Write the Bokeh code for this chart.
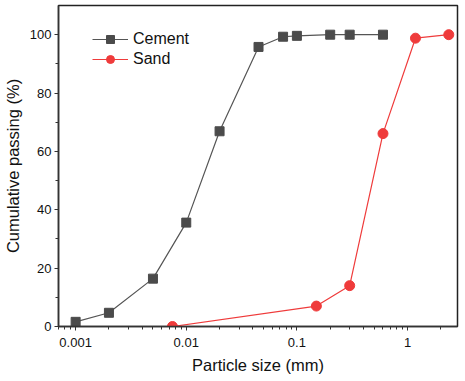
from bokeh.plotting import figure
from bokeh.models import FixedTicker, CustomJSTickFormatter, Legend, LegendItem, Range1d
from bokeh.embed import file_html
from bokeh.resources import INLINE

cement_size = [0.001, 0.002, 0.005, 0.01, 0.02, 0.045, 0.075, 0.1, 0.2, 0.3, 0.6]
cement_pass = [1.6, 4.7, 16.4, 35.6, 66.9, 95.8, 99.3, 99.6, 100, 100, 100]
sand_size = [0.0075, 0.15, 0.3, 0.6, 1.18, 2.36]
sand_pass = [0.0, 7.0, 14.0, 66.1, 98.8, 100]

x_major = [0.001, 0.01, 0.1, 1]
y_major = [0, 20, 40, 60, 80, 100]

FONT = "Liberation Sans"
CEMENT = "#4b4b4b"
SAND = "#ef3b3b"

p = figure(width=460, height=378, x_axis_type="log",
           x_range=Range1d(0.0007, 2.83), y_range=Range1d(0, 110),
           output_backend="svg", toolbar_location=None,
           min_border_left=57, min_border_right=3, min_border_top=5, min_border_bottom=52)

p.xgrid.visible = False
p.ygrid.visible = False
p.outline_line_color = "#222222"
p.outline_line_width = 1.5

l1 = p.line(cement_size, cement_pass, line_color="#555555", line_width=1.2)
s1 = p.scatter(cement_size, cement_pass, marker="square", size=9, fill_color=CEMENT, line_color=CEMENT)
l2 = p.line(sand_size, sand_pass, line_color=SAND, line_width=1.2)
s2 = p.scatter(sand_size, sand_pass, marker="circle", size=10, fill_color=SAND, line_color=SAND)

minor = [m * d for d in [0.0001, 0.001, 0.01, 0.1, 1] for m in range(2, 10)]
p.xaxis.ticker = FixedTicker(ticks=x_major, minor_ticks=minor)
p.xaxis.formatter = CustomJSTickFormatter(code="return tick.toString();")
p.yaxis.ticker = FixedTicker(ticks=y_major, minor_ticks=[10, 30, 50, 70, 90])

for ax in (p.xaxis, p.yaxis):
    ax.axis_line_color = "#333333"
    ax.axis_line_width = 1.5
    ax.major_tick_line_color = "#333333"
    ax.minor_tick_line_color = "#333333"
    ax.major_tick_in = 0
    ax.major_tick_out = 4
    ax.minor_tick_in = 0
    ax.minor_tick_out = 3
    ax.major_label_text_font = FONT
    ax.major_label_text_font_size = "13px"
    ax.major_label_text_color = "#111111"
    ax.axis_label_text_font = FONT
    ax.axis_label_text_font_size = "16.5px"
    ax.axis_label_text_font_style = "normal"
    ax.axis_label_text_color = "#111111"
    ax.major_label_standoff = 3

p.xaxis.axis_label = "Particle size (mm)"
p.yaxis.axis_label = "Cumulative passing (%)"
p.xaxis.major_label_standoff = 7
p.xaxis.axis_label_standoff = 6
p.yaxis.axis_label_standoff = 5

legend = Legend(items=[LegendItem(label="Cement", renderers=[l1, s1]),
                       LegendItem(label="Sand", renderers=[l2, s2])],
                location=(34, 257))
legend.background_fill_alpha = 0
legend.border_line_alpha = 0
legend.label_text_font = FONT
legend.label_text_font_size = "16px"
legend.label_text_color = "#111111"
legend.glyph_width = 36
legend.spacing = 0
legend.label_standoff = 5
legend.padding = 0
p.add_layout(legend)

open("out.html", "w").write(file_html(p, INLINE))
